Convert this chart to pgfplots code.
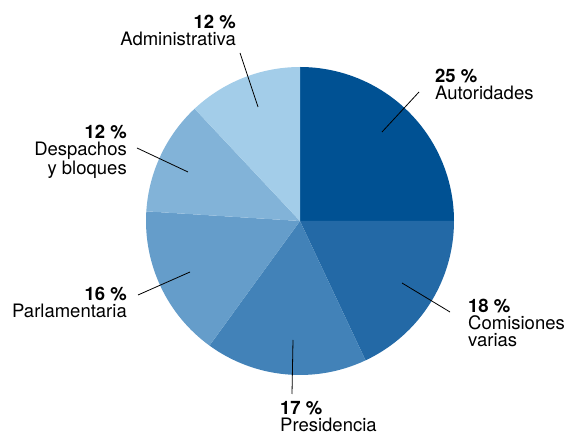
\documentclass[border=0pt]{standalone}
\usepackage{pgfplots}
\usepackage{pgfplotstable}
\pgfplotsset{compat=1.18}
\usepackage{fontspec}
\setmainfont{TeX Gyre Heros}

\definecolor{c1}{HTML}{005193}
\definecolor{c2}{HTML}{2369A6}
\definecolor{c3}{HTML}{4282B8}
\definecolor{c4}{HTML}{659DCA}
\definecolor{c5}{HTML}{82B3D8}
\definecolor{c6}{HTML}{A3CDE9}

% share (%) and colour of each slice, clockwise from the top
\pgfplotstableread{
value color
25 c1
18 c2
17 c3
16 c4
12 c5
12 c6
}\piedata

\begin{document}
\begin{tikzpicture}
\begin{axis}[
    hide axis,
    scale only axis,
    width=565pt, height=433pt,
    xmin=0, xmax=565, ymin=0, ymax=433,
    clip=false,
]
\path (rel axis cs:0,0) rectangle (rel axis cs:1,1);

\pgfplotstablegetrowsof{\piedata}
\pgfmathtruncatemacro\lastrow{\pgfplotsretval-1}
\xdef\startang{90}
\pgfplotsforeachungrouped \i in {0,...,\lastrow}{
    \pgfplotstablegetelem{\i}{value}\of\piedata
    \let\val\pgfplotsretval
    \pgfplotstablegetelem{\i}{color}\of\piedata
    \let\col\pgfplotsretval
    \pgfmathsetmacro\endang{\startang-3.6*\val}
    \edef\temp{\noexpand\fill[\col] (axis cs:300,212) -- ++(\startang:154pt)
        arc[start angle=\startang, end angle=\endang, radius=154pt] -- cycle;}
    \temp
    \xdef\startang{\endang}
}

% leader lines
\draw[line width=0.8pt] (axis cs:240,380) -- (axis cs:258,326);
\draw[line width=0.8pt] (axis cs:419,341) -- (axis cs:382,301);
\draw[line width=0.8pt] (axis cs:137,285) -- (axis cs:188,261);
\draw[line width=0.8pt] (axis cs:138,138) -- (axis cs:190,161);
\draw[line width=0.8pt] (axis cs:402,150) -- (axis cs:450,121);
\draw[line width=0.8pt] (axis cs:293,93) -- (axis cs:292,39);

\tikzset{lbl/.style={inner sep=0pt, font=\fontsize{18.5}{17}\selectfont}}
\node[lbl, anchor=north east, align=right] at (axis cs:236,418)
    {\textbf{12 \%}\\Administrativa};
\node[lbl, anchor=north west, align=left] at (axis cs:435,364)
    {\textbf{25 \%}\\Autoridades};
\node[lbl, anchor=north east, align=right] at (axis cs:127,308)
    {\textbf{12 \%}\\Despachos\\y bloques};
\node[lbl, anchor=north east, align=right] at (axis cs:127,146)
    {\textbf{16 \%}\\Parlamentaria};
\node[lbl, anchor=north west, align=left] at (axis cs:468,134)
    {\textbf{18 \%}\\Comisiones\\varias};
\node[lbl, anchor=north west, align=left] at (axis cs:280,32)
    {\textbf{17 \%}\\Presidencia};
\end{axis}
\end{tikzpicture}
\end{document}
